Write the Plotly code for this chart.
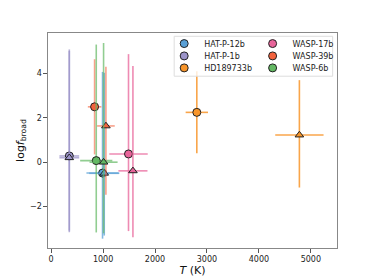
import plotly.graph_objects as go

planets = ["HAT-P-12b", "HAT-P-1b", "HD189733b", "WASP-17b", "WASP-39b", "WASP-6b"]
colors = ["#5aa0d6", "#9c94c9", "#f8952a", "#e8649a", "#f3623d", "#63b863"]
err_colors = ["rgba(90,160,214,0.75)", "rgba(156,148,201,0.75)", "rgba(248,149,42,0.85)",
              "rgba(232,100,154,0.75)", "rgba(243,98,61,0.6)", "rgba(99,184,99,0.7)"]

# circle model
circ_T = [990, 350, 2805, 1490, 837, 869]
circ_T_err = [310, 190, 215, 370, 130, 310]
circ_f = [-0.49, 0.28, 2.24, 0.37, 2.49, 0.07]
circ_f_up = [4.55, 4.79, 1.85, 4.49, 2.14, 5.22]
circ_f_dn = [2.95, 3.36, 1.84, 3.47, 2.14, 3.23]

# triangle model
tri_T = [1023, 350, 4780, 1575, 1055, 1010]
tri_T_err = [290, 190, 465, 280, 170, 270]
tri_f = [-0.50, 0.20, 1.22, -0.39, 1.63, 0.00]
tri_f_up = [4.52, 4.80, 2.47, 4.72, 2.66, 5.36]
tri_f_dn = [2.80, 3.35, 2.36, 2.99, 3.10, 3.20]

fig = go.Figure()

for i, p in enumerate(planets):
    for (T, Te, f, fu, fd, sym, sz) in [
        (circ_T, circ_T_err, circ_f, circ_f_up, circ_f_dn, "circle", 8),
        (tri_T, tri_T_err, tri_f, tri_f_up, tri_f_dn, "triangle-up", 7.5),
    ]:
        fig.add_trace(go.Scatter(
            x=[T[i]], y=[f[i]], mode="markers", showlegend=False,
            marker=dict(symbol=sym, size=sz, color=colors[i],
                        line=dict(color="#222222", width=1)),
            error_x=dict(type="data", array=[Te[i]], color=err_colors[i], thickness=1.6, width=0),
            error_y=dict(type="data", symmetric=False, array=[fu[i]], arrayminus=[fd[i]],
                         color=err_colors[i], thickness=1.6, width=0),
        ))

# legend entries: one small legend per entry, arranged in two columns of three
leg_x = [0.402, 0.402, 0.402, 0.708, 0.708, 0.708]
leg_y = [0.9508, 0.8934, 0.8377, 0.9508, 0.8934, 0.8377]
legend_layout = {}
for i, p in enumerate(planets):
    key = "legend" if i == 0 else f"legend{i + 1}"
    fig.add_trace(go.Scatter(
        x=[None], y=[None], mode="markers", name=p, legend=key,
        marker=dict(symbol="circle", size=8, color=colors[i],
                    line=dict(color="#222222", width=1)),
    ))
    legend_layout[key] = dict(x=leg_x[i], y=leg_y[i], xanchor="left", yanchor="middle",
                              bgcolor="rgba(0,0,0,0)", borderwidth=0,
                              font=dict(family="DejaVu Sans", size=8, color="#222222"),
                              itemwidth=30)

axis_common = dict(showline=True, linecolor="#888888", linewidth=1.3, mirror=True,
                   ticks="outside", ticklen=3.5, tickcolor="#555555", tickwidth=1,
                   showgrid=False, zeroline=False, automargin=False,
                   tickfont=dict(family="DejaVu Sans", size=8, color="#222222"))

# page body has an 8px margin, so the figure is offset by 8px
fig.update_layout(
    width=366, height=272,
    margin=dict(l=39.7, r=37, t=24.7, b=31.7),
    paper_bgcolor="white", plot_bgcolor="white",
    xaxis=dict(range=[-60, 5504], tickvals=[0, 1000, 2000, 3000, 4000, 5000],
               title=dict(text="<i>T</i> (K)", font=dict(family="DejaVu Sans", size=11, color="#111111"),
                          standoff=1),
               **axis_common),
    yaxis=dict(range=[-3.86, 5.81], tickvals=[-2, 0, 2, 4],
               title=dict(text="log<i>f</i><sub>broad</sub>",
                          font=dict(family="DejaVu Sans", size=11, color="#111111"), standoff=3),
               **axis_common),
    shapes=[dict(type="rect", xref="paper", yref="paper", x0=0.4366, x1=0.985, y0=0.799, y1=0.9847,
                 fillcolor="rgba(255,255,255,0.8)", line=dict(color="#dddddd", width=1), layer="above")],
    **legend_layout,
)

fig.write_html("out.html")
